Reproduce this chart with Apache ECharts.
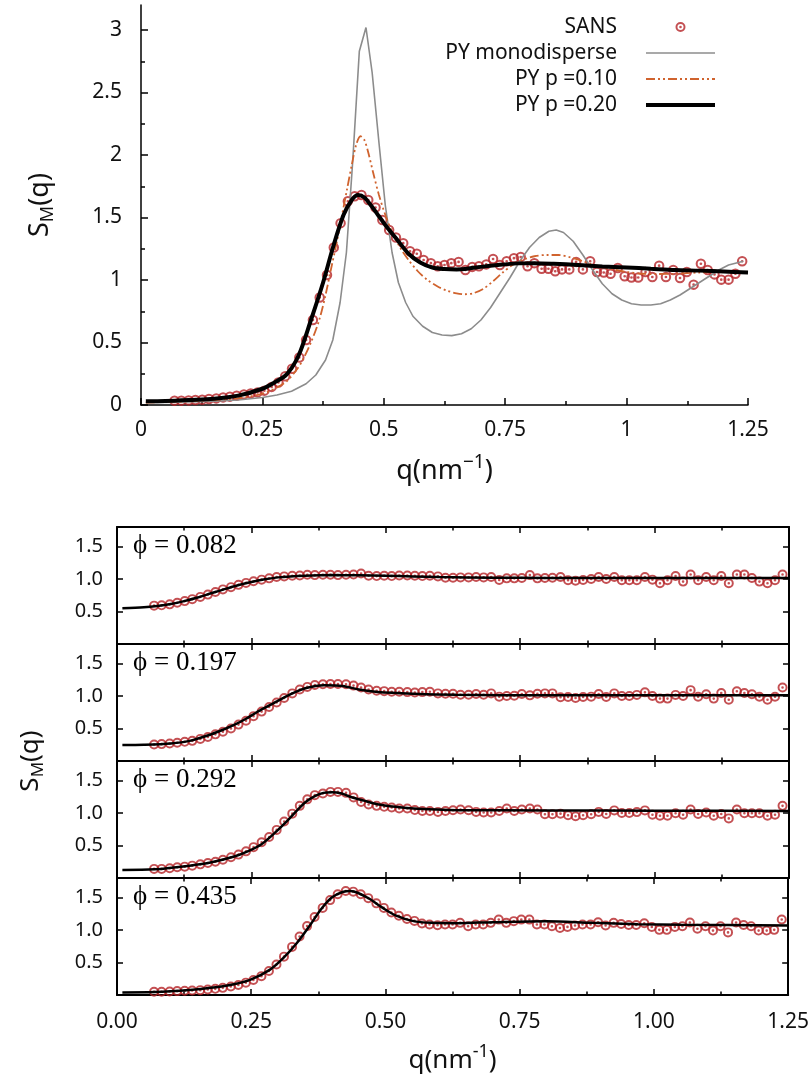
<!DOCTYPE html>
<html><head><meta charset="utf-8">
<script src="https://cdn.jsdelivr.net/npm/echarts@6/dist/echarts.min.js"></script>
<style>html,body{margin:0;padding:0;background:#fff}#c{width:812px;height:1078px}</style>
</head><body><div id="c"></div>
<script>
// ---------------- data ----------------
const qGrid = [0.069,0.083,0.098,0.112,0.126,0.140,0.155,0.169,0.183,0.197,
0.212,0.226,0.240,0.254,0.269,0.283,0.297,0.311,0.326,0.340,
0.354,0.368,0.383,0.397,0.411,0.426,0.440,0.454,0.468,0.483,
0.497,0.511,0.525,0.540,0.554,0.568,0.582,0.597,0.611,0.625,
0.639,0.654,0.668,0.682,0.696,0.711,0.725,0.739,0.753,0.768,
0.782,0.796,0.810,0.825,0.839,0.853,0.867,0.882,0.896,0.910,
0.925,0.939,0.953,0.967,0.982,0.996,1.010,1.024,1.039,1.053,
1.067,1.081,1.096,1.110,1.124,1.138,1.153,1.167,1.181,1.195,
1.210,1.224,1.238];

const sansTop = [0.035,0.035,0.037,0.040,0.043,0.048,0.053,0.061,0.067,0.075,
0.085,0.093,0.101,0.115,0.145,0.180,0.230,0.290,0.380,0.520,
0.680,0.860,1.040,1.260,1.455,1.630,1.670,1.680,1.640,1.580,
1.480,1.400,1.340,1.295,1.230,1.210,1.160,1.135,1.110,1.120,
1.135,1.145,1.080,1.105,1.110,1.125,1.168,1.120,1.150,1.175,
1.184,1.110,1.135,1.090,1.090,1.070,1.085,1.085,1.145,1.085,
1.150,1.064,1.060,1.050,1.096,1.030,1.020,1.020,1.064,1.024,
1.115,1.024,1.080,1.016,1.064,0.963,1.130,1.080,1.045,1.003,
1.003,1.050,1.150];

const pyMono = [[0.01,0.02],[0.05,0.02],[0.1,0.025],[0.15,0.03],[0.2,0.04],[0.25,0.06],[0.28,0.08],[0.31,0.11],[0.34,0.17],[0.36,0.24],[0.38,0.36],[0.395,0.52],[0.41,0.82],[0.423,1.22],[0.436,1.95],[0.4496,2.83],[0.4633,3.02],[0.476,2.66],[0.49,2.1],[0.503,1.6],[0.517,1.22],[0.53,0.98],[0.545,0.82],[0.56,0.71],[0.58,0.63],[0.6,0.58],[0.62,0.56],[0.64,0.555],[0.66,0.57],[0.68,0.61],[0.7,0.68],[0.72,0.78],[0.74,0.9],[0.76,1.02],[0.78,1.15],[0.8,1.26],[0.82,1.34],[0.84,1.39],[0.855,1.40],[0.87,1.38],[0.89,1.31],[0.91,1.2],[0.93,1.08],[0.95,0.97],[0.97,0.89],[0.99,0.84],[1.01,0.81],[1.03,0.80],[1.05,0.80],[1.07,0.81],[1.09,0.84],[1.11,0.88],[1.13,0.93],[1.15,0.98],[1.17,1.03],[1.19,1.08],[1.21,1.12],[1.23,1.14],[1.24,1.15]];

const pyP10 = [[0.01,0.02],[0.1,0.03],[0.15,0.04],[0.2,0.055],[0.25,0.09],[0.28,0.14],[0.3,0.19],[0.32,0.28],[0.333,0.36],[0.35,0.5],[0.367,0.68],[0.38,0.88],[0.392,1.1],[0.403,1.3],[0.413,1.5],[0.424,1.72],[0.434,1.92],[0.443,2.08],[0.452,2.15],[0.46,2.12],[0.468,2.02],[0.478,1.86],[0.49,1.68],[0.505,1.5],[0.52,1.36],[0.535,1.25],[0.551,1.16],[0.57,1.07],[0.59,1.0],[0.61,0.95],[0.63,0.915],[0.65,0.893],[0.667,0.886],[0.685,0.895],[0.705,0.93],[0.725,0.99],[0.745,1.06],[0.765,1.12],[0.785,1.16],[0.81,1.19],[0.835,1.2],[0.86,1.2],[0.885,1.18],[0.91,1.15],[0.94,1.11],[0.97,1.085],[1.0,1.065],[1.03,1.05],[1.06,1.048],[1.1,1.05],[1.15,1.06],[1.2,1.065],[1.25,1.065]];

const pyP20 = [[0.01,0.03],[0.05,0.032],[0.1,0.04],[0.15,0.05],[0.2,0.075],[0.25,0.13],[0.275,0.18],[0.3,0.245],[0.325,0.4],[0.35,0.68],[0.375,0.98],[0.396,1.27],[0.417,1.52],[0.434,1.64],[0.447,1.68],[0.46,1.66],[0.475,1.59],[0.49,1.51],[0.505,1.43],[0.526,1.33],[0.551,1.21],[0.575,1.14],[0.6,1.1],[0.625,1.088],[0.65,1.085],[0.675,1.092],[0.7,1.105],[0.735,1.12],[0.775,1.133],[0.81,1.135],[0.85,1.13],[0.9,1.12],[0.95,1.108],[1.0,1.1],[1.05,1.09],[1.1,1.08],[1.15,1.075],[1.2,1.068],[1.25,1.06]];

const phiLabels = ['\u03d5 = 0.082','\u03d5 = 0.197','\u03d5 = 0.292','\u03d5 = 0.435'];

const sans082 = [0.59,0.595,0.61,0.635,0.66,0.69,0.725,0.76,0.80,0.84,
0.875,0.91,0.94,0.965,0.99,1.01,1.03,1.04,1.05,1.055,
1.065,1.06,1.065,1.065,1.06,1.065,1.07,1.085,1.05,1.045,
1.05,1.045,1.055,1.055,1.05,1.045,1.05,1.04,1.02,1.02,
1.025,1.025,1.03,1.025,1.03,0.985,1.01,1.01,1.015,1.06,
1.01,1.015,1.02,1.03,0.98,0.975,0.985,1.0,1.03,1.0,
1.03,0.98,0.98,0.98,1.03,0.99,0.935,0.98,1.045,0.96,
1.07,0.98,1.03,0.98,1.045,0.935,1.07,1.07,1.015,0.96,
0.935,0.98,1.07];
const sans197 = [0.255,0.26,0.27,0.28,0.295,0.31,0.34,0.37,0.41,0.45,
0.50,0.56,0.62,0.69,0.76,0.83,0.90,0.97,1.04,1.10,
1.14,1.17,1.18,1.185,1.185,1.18,1.16,1.13,1.10,1.08,
1.075,1.065,1.065,1.06,1.055,1.06,1.065,1.04,1.035,1.035,
1.02,1.02,1.03,1.02,1.04,0.99,1.0,1.005,1.03,1.01,
1.035,1.04,1.04,0.98,0.985,0.97,0.985,0.99,1.03,0.985,
1.04,1.0,1.0,1.017,1.056,1.0,0.96,0.96,1.017,1.0,
1.09,0.988,1.028,0.96,1.045,0.943,1.073,1.045,1.028,0.988,
0.943,0.988,1.13];
const sans292 = [0.14,0.14,0.15,0.165,0.175,0.19,0.21,0.23,0.25,0.28,
0.32,0.36,0.41,0.475,0.55,0.63,0.74,0.87,0.99,1.11,
1.21,1.275,1.30,1.325,1.325,1.31,1.24,1.17,1.13,1.11,
1.095,1.084,1.07,1.07,1.045,1.03,1.03,1.017,1.03,1.043,
1.053,1.043,1.017,1.007,1.007,1.03,1.07,1.03,1.053,1.07,
1.053,0.98,0.98,0.99,0.965,0.95,0.965,0.98,1.017,0.985,
1.04,1.0,1.0,1.014,1.04,0.974,0.957,0.957,0.997,0.974,
1.053,0.985,1.008,0.957,0.985,0.917,1.053,0.997,0.997,0.997,
0.957,0.974,1.11];
const sans435 = [0.05,0.05,0.055,0.06,0.065,0.07,0.075,0.085,0.095,0.11,
0.13,0.155,0.19,0.23,0.29,0.37,0.47,0.59,0.74,0.90,
1.06,1.20,1.34,1.46,1.55,1.60,1.59,1.55,1.49,1.41,
1.34,1.27,1.22,1.17,1.14,1.10,1.084,1.074,1.084,1.084,
1.11,1.058,1.084,1.084,1.11,1.16,1.11,1.136,1.16,1.16,
1.084,1.084,1.058,1.03,1.048,1.07,1.084,1.084,1.12,1.07,
1.11,1.093,1.076,1.076,1.105,1.048,1.002,1.002,1.048,1.059,
1.116,1.02,1.059,0.991,1.059,0.963,1.116,1.076,1.059,0.991,
0.991,1.002,1.161];

const fit082 = [[0.01,0.55],[0.05,0.565],[0.075,0.585],[0.1,0.615],[0.125,0.66],[0.15,0.715],[0.175,0.78],[0.2,0.845],[0.225,0.905],[0.25,0.955],[0.275,0.995],[0.3,1.025],[0.35,1.05],[0.4,1.06],[0.45,1.058],[0.5,1.05],[0.55,1.04],[0.6,1.03],[0.7,1.02],[0.8,1.017],[1.0,1.015],[1.25,1.015]];
const fit197 = [[0.01,0.245],[0.05,0.25],[0.1,0.27],[0.135,0.31],[0.175,0.41],[0.2,0.49],[0.218,0.554],[0.24,0.65],[0.26,0.75],[0.28,0.84],[0.3,0.93],[0.325,1.036],[0.35,1.12],[0.385,1.166],[0.42,1.155],[0.45,1.10],[0.485,1.062],[0.55,1.036],[0.63,1.02],[0.8,1.01],[1.25,1.01]];
const fit292 = [[0.01,0.124],[0.07,0.134],[0.135,0.19],[0.176,0.243],[0.218,0.33],[0.243,0.41],[0.268,0.516],[0.293,0.69],[0.318,0.89],[0.335,1.04],[0.351,1.17],[0.368,1.26],[0.384,1.31],[0.4,1.32],[0.418,1.30],[0.434,1.25],[0.459,1.19],[0.484,1.135],[0.518,1.095],[0.551,1.07],[0.593,1.053],[0.634,1.043],[0.8,1.04],[1.0,1.035],[1.25,1.03]];
const fit435 = [[0.01,0.04],[0.07,0.046],[0.135,0.077],[0.175,0.11],[0.22,0.17],[0.25,0.24],[0.285,0.39],[0.31,0.57],[0.335,0.8],[0.36,1.08],[0.38,1.32],[0.4,1.5],[0.42,1.585],[0.435,1.6],[0.45,1.565],[0.47,1.48],[0.495,1.34],[0.52,1.22],[0.55,1.14],[0.585,1.11],[0.635,1.105],[0.7,1.12],[0.8,1.135],[0.885,1.11],[0.97,1.09],[1.05,1.08],[1.25,1.07]];

const panelSans = [sans082, sans197, sans292, sans435];
const panelFits = [fit082, fit197, fit292, fit435];

const yTopTicks = [0,0.5,1,1.5,2,2.5,3];
const yTopMinor = [0.25,0.75,1.25,1.75,2.25,2.75];
const yPanelTicks = [0.5,1.0,1.5];
const legendNames = ['SANS','PY monodisperse','PY p =0.10','PY p =0.20'];

// ---------------- style ----------------
const FONT = "'Noto Sans', 'Open Sans', sans-serif";
const SERIF = "'Liberation Serif', 'DejaVu Serif', serif";
const RED = '#b52428';
const TXT = '#111';
const RING = 'path://M10,0A10,10,0,1,1,-10,0A10,10,0,1,1,10,0ZM6.1,0A6.1,6.1,0,1,0,-6.1,0A6.1,6.1,0,1,0,6.1,0ZM2.6,0A2.6,2.6,0,1,1,-2.6,0A2.6,2.6,0,1,1,2.6,0Z';
const black = (w) => ({color:'#000', width:w});
const LINE_W = [null, 1.6, 1.8, 4];
const LINE_C = [RED, '#8c8c8c', '#d0632e', '#000'];

const P_LEFT = 117, P_WIDTH = 672, P_TOP = 527, P_H = 117;

const grids = [{left:141, top:5, width:607, height:400}];
for (let k = 0; k < 4; k++) grids.push({left:P_LEFT, top:P_TOP + P_H*k, width:P_WIDTH, height:P_H});
grids.push({left:P_LEFT, top:P_TOP, width:P_WIDTH, height:P_H*4});

const smRich = (big, small, pad) => ({
  a:{fontSize:big, fontFamily:FONT, color:TXT},
  b:{fontSize:small, fontFamily:FONT, color:TXT, padding:[pad,0,0,0]}
});
const qRich = (big, small, pad) => ({
  a:{fontSize:big, fontFamily:FONT, color:TXT},
  s:{fontSize:small, fontFamily:FONT, color:TXT, padding:[0,0,pad,0]}
});

const xAxes = [{
  gridIndex:0, type:'value', min:0, max:1.25, interval:0.25, position:'bottom',
  axisLine:{onZero:false, lineStyle:black(1.5)},
  axisTick:{inside:true, length:7, lineStyle:black(1.5)},
  minorTick:{show:true, splitNumber:2, length:4, lineStyle:black(1.5)},
  splitLine:{show:false}, minorSplitLine:{show:false},
  axisLabel:{fontSize:21, fontFamily:FONT, color:TXT, margin:15},
  name:'{a|q(nm}{s|\u22121}{a|)}', nameLocation:'middle', nameGap:48,
  nameTextStyle:{rich:qRich(27,19,18)}
}];
const yAxes = [{
  gridIndex:0, type:'value', min:0, max:3.2, interval:0.5, position:'left',
  axisLine:{onZero:false, lineStyle:black(1.5)},
  axisTick:{inside:true, length:7, customValues:yTopTicks, lineStyle:black(1.5)},
  axisLabel:{customValues:yTopTicks, fontSize:21, fontFamily:FONT, color:TXT, margin:19},
  splitLine:{show:false},
  name:'{a|S}{b|M}{a|(q)}', nameLocation:'middle', nameGap:84,
  nameTextStyle:{rich:smRich(27,18,16)}
},{
  gridIndex:0, type:'value', min:0, max:3.2, position:'left',
  axisLine:{show:false, onZero:false},
  axisTick:{inside:true, length:4, customValues:yTopMinor, lineStyle:black(1.5)},
  axisLabel:{show:false}, splitLine:{show:false}
}];

for (let k = 0; k < 4; k++) {
  const last = k === 3;
  xAxes.push({
    gridIndex:k+1, type:'value', min:0, max:1.25, interval:0.25, position:'bottom',
    axisLine:{onZero:false, lineStyle:black(2)},
    axisTick:{inside:true, length:6, lineStyle:black(1.5)},
    minorTick:{show:true, splitNumber:2, length:3.5, lineStyle:black(1.5)},
    splitLine:{show:false}, minorSplitLine:{show:false},
    axisLabel:{show:last, fontSize:21, fontFamily:FONT, color:TXT, margin:17, formatter:(v)=>v.toFixed(2)},
    name: last ? '{a|q(nm}{s|-1}{a|)}' : '', nameLocation:'middle', nameGap:48,
    nameTextStyle:{rich:qRich(26,18,18)}
  });
}
for (let k = 0; k < 4; k++) {
  xAxes.push({
    gridIndex:k+1, type:'value', min:0, max:1.25, interval:0.25, position:'top',
    axisLine:{onZero:false, lineStyle:black(2)},
    axisTick:{inside:true, length:6, lineStyle:black(1.5)},
    minorTick:{show:true, splitNumber:2, length:3.5, lineStyle:black(1.5)},
    splitLine:{show:false}, minorSplitLine:{show:false},
    axisLabel:{show:false}
  });
}
xAxes.push({gridIndex:5, type:'value', min:0, max:1, show:false});

for (let k = 0; k < 4; k++) {
  yAxes.push({
    gridIndex:k+1, type:'value', min:0, max:1.8, interval:0.5, position:'left',
    axisLine:{onZero:false, lineStyle:black(2)},
    axisTick:{inside:true, length:6, customValues:yPanelTicks, lineStyle:black(1.5)},
    axisLabel:{customValues:yPanelTicks, fontSize:20, fontFamily:FONT, color:TXT, margin:14, formatter:(v)=>v.toFixed(1)},
    splitLine:{show:false}
  });
}
for (let k = 0; k < 4; k++) {
  yAxes.push({
    gridIndex:k+1, type:'value', min:0, max:1.8, interval:0.5, position:'right',
    axisLine:{onZero:false, lineStyle:black(2)},
    axisTick:{inside:true, length:6, customValues:yPanelTicks, lineStyle:black(1.5)},
    axisLabel:{show:false}, splitLine:{show:false}
  });
}
yAxes.push({
  gridIndex:5, type:'value', min:0, max:1, position:'left',
  axisLine:{show:false}, axisTick:{show:false}, axisLabel:{show:false}, splitLine:{show:false},
  name:'{a|S}{b|M}{a|(q)}', nameLocation:'middle', nameGap:70,
  nameTextStyle:{rich:smRich(26,17,15)}
});

const series = [
  {name:legendNames[1], type:'line', xAxisIndex:0, yAxisIndex:0, data:pyMono, symbol:'none', smooth:false,
   lineStyle:{color:LINE_C[1], width:LINE_W[1]}, itemStyle:{color:LINE_C[1]}},
  {name:legendNames[2], type:'line', xAxisIndex:0, yAxisIndex:0, data:pyP10, symbol:'none', smooth:0.3,
   lineStyle:{color:LINE_C[2], width:LINE_W[2], type:[9,3,2,3,2,3]}, itemStyle:{color:LINE_C[2]}},
  {name:legendNames[3], type:'line', xAxisIndex:0, yAxisIndex:0, data:pyP20, symbol:'none', smooth:0.3,
   lineStyle:{color:LINE_C[3], width:LINE_W[3]}, itemStyle:{color:LINE_C[3]}},
  {name:legendNames[0], type:'scatter', xAxisIndex:0, yAxisIndex:0, symbol:RING, symbolSize:10.5,
   data:qGrid.map((q,i)=>[q, sansTop[i]]), itemStyle:{color:RED}}
];
for (let k = 0; k < 4; k++) {
  series.push({name:'sans'+k, type:'scatter', xAxisIndex:1+k, yAxisIndex:2+k, symbol:RING, symbolSize:10,
    data:qGrid.map((q,i)=>[q, panelSans[k][i]]), itemStyle:{color:RED}});
  series.push({name:'fit'+k, type:'line', xAxisIndex:1+k, yAxisIndex:2+k, data:panelFits[k], symbol:'none', smooth:0.3,
    lineStyle:{color:'#000', width:2.5}});
}

const titles = phiLabels.map((t,k)=>({
  text:t, left:128, top:P_TOP + P_H*k - 1,
  textStyle:{fontFamily:SERIF, fontSize:27, fontWeight:'normal', color:'#000', lineHeight:30}
}));

const legendData = legendNames.map((n,i)=> i === 0 ? {name:n} :
  {name:n, itemStyle:{opacity:0}, lineStyle:{width:LINE_W[i], color:LINE_C[i]}});

const chart = echarts.init(document.getElementById('c'), null, {renderer:'canvas'});
chart.setOption({
  animation:false,
  backgroundColor:'#fff',
  title:titles,
  legend:{
    data:legendData, orient:'vertical', align:'right', right:90, top:11,
    itemWidth:69, itemHeight:10, itemGap:4,
    textStyle:{fontSize:21, fontFamily:FONT, color:TXT, lineHeight:22, padding:[0,24,0,0]}
  },
  grid:grids, xAxis:xAxes, yAxis:yAxes, series:series
});
</script></body></html>
